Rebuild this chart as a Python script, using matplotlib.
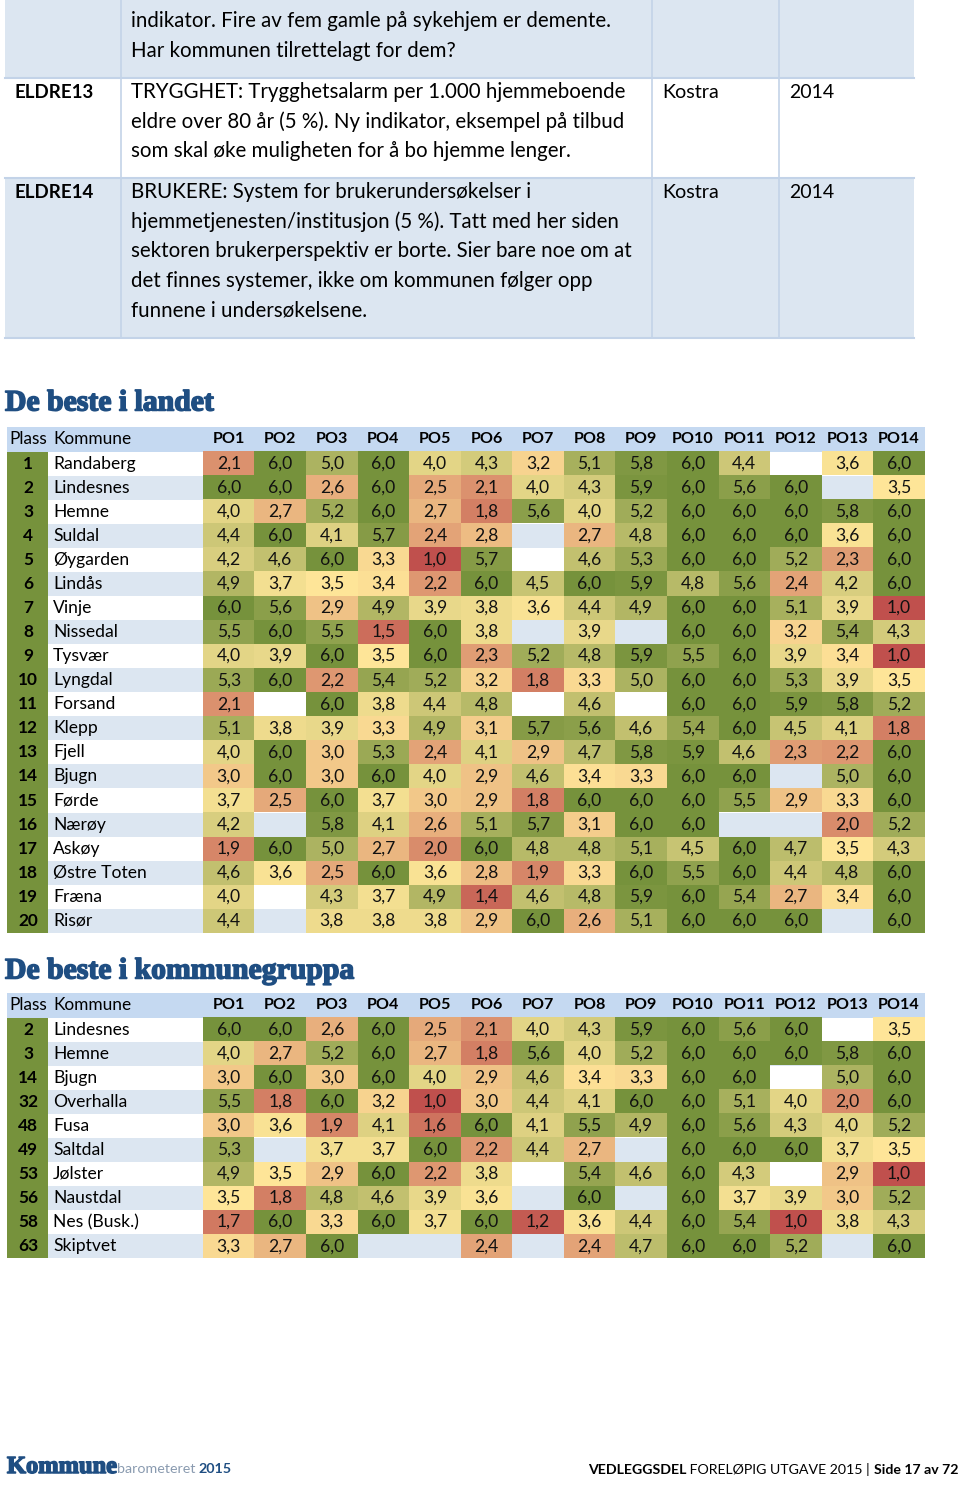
import numpy as np
import matplotlib
matplotlib.use("Agg")
import matplotlib.pyplot as plt
import matplotlib.patheffects as pe
from matplotlib.colors import LinearSegmentedColormap, Normalize
from matplotlib.patches import Rectangle

# ---------------- data ----------------
top_codes = ["", "ELDRE13", "ELDRE14"]
top_desc = [
    ["indikator. Fire av fem gamle på sykehjem er demente.",
     "Har kommunen tilrettelagt for dem?"],
    ["TRYGGHET: Trygghetsalarm per 1.000 hjemmeboende",
     "eldre over 80 år (5 %). Ny indikator, eksempel på tilbud",
     "som skal øke muligheten for å bo hjemme lenger."],
    ["BRUKERE: System for brukerundersøkelser i",
     "hjemmetjenesten/institusjon (5 %). Tatt med her siden",
     "sektoren brukerperspektiv er borte. Sier bare noe om at",
     "det finnes systemer, ikke om kommunen følger opp",
     "funnene i undersøkelsene."],
]
top_source = ["", "Kostra", "Kostra"]
top_year = ["", "2014", "2014"]

columns = ["PO1", "PO2", "PO3", "PO4", "PO5", "PO6", "PO7",
           "PO8", "PO9", "PO10", "PO11", "PO12", "PO13", "PO14"]

N = None
land_plass = list(range(1, 21))
land_kommune = ["Randaberg", "Lindesnes", "Hemne", "Suldal", "Øygarden", "Lindås",
                "Vinje", "Nissedal", "Tysvær", "Lyngdal", "Forsand", "Klepp", "Fjell",
                "Bjugn", "Førde", "Nærøy", "Askøy", "Østre Toten", "Fræna", "Risør"]
land_values = [
    [2.1, 6.0, 5.0, 6.0, 4.0, 4.3, 3.2, 5.1, 5.8, 6.0, 4.4, N, 3.6, 6.0],
    [6.0, 6.0, 2.6, 6.0, 2.5, 2.1, 4.0, 4.3, 5.9, 6.0, 5.6, 6.0, N, 3.5],
    [4.0, 2.7, 5.2, 6.0, 2.7, 1.8, 5.6, 4.0, 5.2, 6.0, 6.0, 6.0, 5.8, 6.0],
    [4.4, 6.0, 4.1, 5.7, 2.4, 2.8, N, 2.7, 4.8, 6.0, 6.0, 6.0, 3.6, 6.0],
    [4.2, 4.6, 6.0, 3.3, 1.0, 5.7, N, 4.6, 5.3, 6.0, 6.0, 5.2, 2.3, 6.0],
    [4.9, 3.7, 3.5, 3.4, 2.2, 6.0, 4.5, 6.0, 5.9, 4.8, 5.6, 2.4, 4.2, 6.0],
    [6.0, 5.6, 2.9, 4.9, 3.9, 3.8, 3.6, 4.4, 4.9, 6.0, 6.0, 5.1, 3.9, 1.0],
    [5.5, 6.0, 5.5, 1.5, 6.0, 3.8, N, 3.9, N, 6.0, 6.0, 3.2, 5.4, 4.3],
    [4.0, 3.9, 6.0, 3.5, 6.0, 2.3, 5.2, 4.8, 5.9, 5.5, 6.0, 3.9, 3.4, 1.0],
    [5.3, 6.0, 2.2, 5.4, 5.2, 3.2, 1.8, 3.3, 5.0, 6.0, 6.0, 5.3, 3.9, 3.5],
    [2.1, N, 6.0, 3.8, 4.4, 4.8, N, 4.6, N, 6.0, 6.0, 5.9, 5.8, 5.2],
    [5.1, 3.8, 3.9, 3.3, 4.9, 3.1, 5.7, 5.6, 4.6, 5.4, 6.0, 4.5, 4.1, 1.8],
    [4.0, 6.0, 3.0, 5.3, 2.4, 4.1, 2.9, 4.7, 5.8, 5.9, 4.6, 2.3, 2.2, 6.0],
    [3.0, 6.0, 3.0, 6.0, 4.0, 2.9, 4.6, 3.4, 3.3, 6.0, 6.0, N, 5.0, 6.0],
    [3.7, 2.5, 6.0, 3.7, 3.0, 2.9, 1.8, 6.0, 6.0, 6.0, 5.5, 2.9, 3.3, 6.0],
    [4.2, N, 5.8, 4.1, 2.6, 5.1, 5.7, 3.1, 6.0, 6.0, N, N, 2.0, 5.2],
    [1.9, 6.0, 5.0, 2.7, 2.0, 6.0, 4.8, 4.8, 5.1, 4.5, 6.0, 4.7, 3.5, 4.3],
    [4.6, 3.6, 2.5, 6.0, 3.6, 2.8, 1.9, 3.3, 6.0, 5.5, 6.0, 4.4, 4.8, 6.0],
    [4.0, N, 4.3, 3.7, 4.9, 1.4, 4.6, 4.8, 5.9, 6.0, 5.4, 2.7, 3.4, 6.0],
    [4.4, N, 3.8, 3.8, 3.8, 2.9, 6.0, 2.6, 5.1, 6.0, 6.0, 6.0, N, 6.0],
]

grp_plass = [2, 3, 14, 32, 48, 49, 53, 56, 58, 63]
grp_kommune = ["Lindesnes", "Hemne", "Bjugn", "Overhalla", "Fusa", "Saltdal",
               "Jølster", "Naustdal", "Nes (Busk.)", "Skiptvet"]
grp_values = [
    [6.0, 6.0, 2.6, 6.0, 2.5, 2.1, 4.0, 4.3, 5.9, 6.0, 5.6, 6.0, N, 3.5],
    [4.0, 2.7, 5.2, 6.0, 2.7, 1.8, 5.6, 4.0, 5.2, 6.0, 6.0, 6.0, 5.8, 6.0],
    [3.0, 6.0, 3.0, 6.0, 4.0, 2.9, 4.6, 3.4, 3.3, 6.0, 6.0, N, 5.0, 6.0],
    [5.5, 1.8, 6.0, 3.2, 1.0, 3.0, 4.4, 4.1, 6.0, 6.0, 5.1, 4.0, 2.0, 6.0],
    [3.0, 3.6, 1.9, 4.1, 1.6, 6.0, 4.1, 5.5, 4.9, 6.0, 5.6, 4.3, 4.0, 5.2],
    [5.3, N, 3.7, 3.7, 6.0, 2.2, 4.4, 2.7, N, 6.0, 6.0, 6.0, 3.7, 3.5],
    [4.9, 3.5, 2.9, 6.0, 2.2, 3.8, N, 5.4, 4.6, 6.0, 4.3, N, 2.9, 1.0],
    [3.5, 1.8, 4.8, 4.6, 3.9, 3.6, N, 6.0, N, 6.0, 3.7, 3.9, 3.0, 5.2],
    [1.7, 6.0, 3.3, 6.0, 3.7, 6.0, 1.2, 3.6, 4.4, 6.0, 5.4, 1.0, 3.8, 4.3],
    [3.3, 2.7, 6.0, N, N, 2.4, N, 2.4, 4.7, 6.0, 6.0, 5.2, N, 6.0],
]

titles = ["De beste i landet", "De beste i kommunegruppa"]

# ---------------- style ----------------
W, H = 960, 1486
FONT = "Lato"
BLUE_ROW = "#dce6f1"
HEAD_BLUE = "#c5d9f1"
GREEN = "#76923c"
TITLE_BLUE = "#1f4e82"
LINE = "#c3d3e8"
cmap = LinearSegmentedColormap.from_list(
    "ryg", [(0.0, "#c0504d"), (0.5, "#ffe699"), (1.0, "#76923c")])
cmap.set_bad((0, 0, 0, 0))
norm = Normalize(1.0, 6.0)
heavy = [pe.withStroke(linewidth=1.1, foreground=TITLE_BLUE)]

fig = plt.figure(figsize=(W / 100, H / 100), dpi=100)
ax = fig.add_axes([0, 0, 1, 1])
ax.axis("off")

# ---------------- top description table ----------------
col_x = [5, 121, 652, 779, 914]
row_y = [0, 78, 178, 338]
line_h = 29.7
for i in range(len(top_codes)):
    y0, y1 = row_y[i], row_y[i + 1]
    face = BLUE_ROW if i % 2 == 0 else "white"
    ax.add_patch(Rectangle((col_x[0], y0), col_x[-1] - col_x[0], y1 - y0,
                           facecolor=face, edgecolor="none", zorder=1))
    ax.plot([col_x[0], col_x[-1]], [y1, y1], color=LINE, lw=1.5, zorder=2)
    ty = y0 + (21 if i == 0 else 14)
    ax.text(15, ty, top_codes[i], fontsize=13.5, fontweight="bold", family=FONT,
            va="center", ha="left", zorder=3)
    for k, line in enumerate(top_desc[i]):
        ax.text(131, ty + k * line_h, line, fontsize=14.8, family=FONT,
                va="center", ha="left", zorder=3)
    ax.text(662, ty, top_source[i], fontsize=14.2, family=FONT, va="center", zorder=3)
    ax.text(789, ty, top_year[i], fontsize=14.0, family=FONT, va="center", zorder=3)
for x in col_x[1:-1]:
    ax.plot([x, x], [row_y[0], row_y[-1]], color=LINE, lw=1.2, zorder=2)


# ---------------- heat tables ----------------
def draw_table(title, title_y, head_y0, plass, kommune, values):
    ax.text(5, title_y, title, fontsize=21.4, fontweight="bold",
            family="Liberation Serif", color=TITLE_BLUE, va="center", ha="left",
            path_effects=heavy)
    rh = 24.07
    hx0, plx1, vx0, cw = 7, 48, 203, 51.55
    vx1 = vx0 + cw * len(columns)
    head_h = 24.5
    ax.add_patch(Rectangle((hx0, head_y0), vx1 - hx0, head_h, facecolor=HEAD_BLUE,
                           edgecolor="none", zorder=1))
    hy = head_y0 + head_h / 2
    ax.text(9, hy, "Plass", fontsize=12.4, family=FONT, va="center", ha="left", zorder=3)
    ax.text(53, hy, "Kommune", fontsize=12.4, family=FONT, va="center", ha="left", zorder=3)
    for j, c in enumerate(columns):
        ax.text(vx0 + cw * (j + 0.5), hy, c, fontsize=11.6, fontweight="bold",
                family=FONT, va="center", ha="center", zorder=3)
    y0 = head_y0 + head_h
    n = len(kommune)
    for i in range(n):
        ry = y0 + i * rh
        face = "white" if i % 2 == 0 else BLUE_ROW
        ax.add_patch(Rectangle((plx1, ry), vx1 - plx1, rh, facecolor=face,
                               edgecolor="none", zorder=1))
    ax.add_patch(Rectangle((hx0, y0), plx1 - hx0, n * rh, facecolor=GREEN,
                           edgecolor="none", zorder=1))
    arr = np.array([[np.nan if v is None else v for v in row] for row in values], float)
    ax.imshow(np.ma.masked_invalid(arr), cmap=cmap, norm=norm, aspect="auto",
              interpolation="nearest", extent=(vx0, vx1, y0 + n * rh, y0), zorder=2)
    for i in range(n):
        cy = y0 + (i + 0.5) * rh
        ax.text(28, cy, str(plass[i]), fontsize=12.4, fontweight="bold", family=FONT,
                va="center", ha="center", zorder=3)
        ax.text(53, cy, kommune[i], fontsize=12.6, family=FONT,
                va="center", ha="left", zorder=3)
        for j, v in enumerate(values[i]):
            if v is None:
                continue
            ax.text(vx0 + cw * (j + 0.5), cy, f"{v:.1f}".replace(".", ","),
                    fontsize=12.6, family=FONT, va="center", ha="center",
                    color="#111111", zorder=3)


draw_table(titles[0], 403, 427, land_plass, land_kommune, land_values)
draw_table(titles[1], 971, 993, grp_plass, grp_kommune, grp_values)

ax.set_xlim(0, W)
ax.set_ylim(H, 0)

# ---------------- footer ----------------
fig.canvas.draw()
renderer = fig.canvas.get_renderer()


def chain(x, y, parts):
    """Draw text pieces one after another; return artists and end x."""
    arts = []
    for txt, kw in parts:
        t = ax.text(x, y, txt, va="baseline", ha="left", **kw)
        bb = t.get_window_extent(renderer)
        x += bb.width
        arts.append(t)
    return arts, x


chain(7, 1473, [("Kommune", dict(fontsize=17.6, fontweight="bold",
                                 family="Liberation Serif", color=TITLE_BLUE,
                                 path_effects=heavy)),
                ("barometeret ", dict(fontsize=10.3, family=FONT, color="#8a9bb0")),
                ("2015", dict(fontsize=10.3, fontweight="bold", family=FONT,
                              color=TITLE_BLUE))])

parts = [("VEDLEGGSDEL", dict(fontsize=10.2, fontweight="bold", family=FONT)),
         (" FORELØPIG UTGAVE 2015 | ", dict(fontsize=10.2, family=FONT)),
         ("Side 17 av 72", dict(fontsize=10.2, fontweight="bold", family=FONT))]
arts, xe = chain(0, 1474, parts)
shift = 958 - xe
for a in arts:
    a.set_x(a.get_position()[0] + shift)

fig.savefig("out.png", dpi=100, facecolor="white")
